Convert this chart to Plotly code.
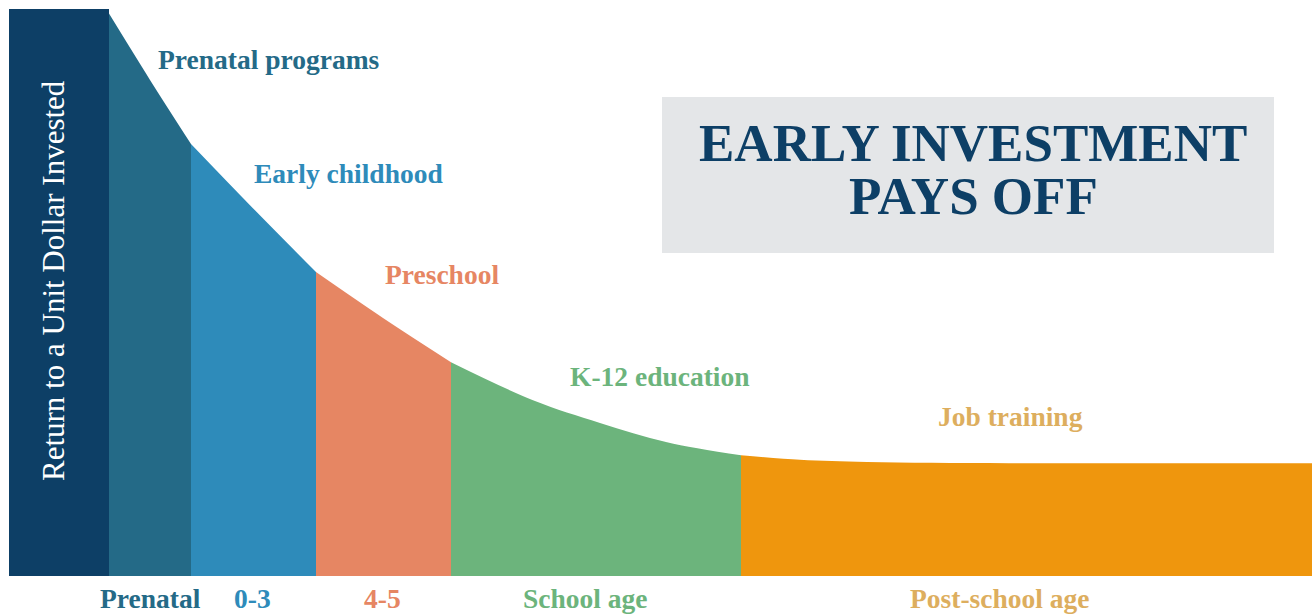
import plotly.graph_objects as go

# ---- data (x: position along life-course axis, y: return to a unit dollar) ----
segment_names = ["Prenatal", "0-3", "4-5", "School age", "Post-school age"]
program_names = ["Prenatal programs", "Early childhood", "Preschool", "K-12 education", "Job training"]
segment_bounds = [100, 182, 307, 442, 732, 1303]
axis_bar_x = [0, 100]
axis_bar_y = [10, 10]
curve_x = [100, 141, 182, 241, 307, 374, 442, 524, 591, 658, 732, 791, 858, 1000, 1303]
curve_y = [9.92, 8.75, 7.62, 6.54, 5.36, 4.55, 3.77, 3.10, 2.70, 2.36, 2.13, 2.05, 2.01, 1.99, 1.99]
seg_colors = ["#246A87", "#2E8BBA", "#E68663", "#6CB47C", "#EF960D"]
label_colors = ["#246A87", "#2E8BBA", "#E68663", "#6CB47C", "#DDAE5E"]
navy = "#0D3F66"

fig = go.Figure()

# left dark bar holding the axis title
fig.add_trace(go.Scatter(x=axis_bar_x, y=axis_bar_y, mode="lines", fill="tozeroy",
                         line=dict(width=0, color=navy), fillcolor=navy,
                         hoverinfo="skip", showlegend=False))

for i, name in enumerate(segment_names):
    lo, hi = segment_bounds[i], segment_bounds[i + 1]
    xs = [x for x in curve_x if lo <= x <= hi]
    ys = [y for x, y in zip(curve_x, curve_y) if lo <= x <= hi]
    fig.add_trace(go.Scatter(x=xs, y=ys, mode="lines", fill="tozeroy",
                             line=dict(width=0, color=seg_colors[i], shape="spline", smoothing=1.0),
                             fillcolor=seg_colors[i], name=name,
                             hoverinfo="skip", showlegend=False))

SERIF = "Liberation Serif, Times New Roman, serif"

def py(p):  # pixel row -> y data value
    return (576 - p) / 56.7

def pp(p):  # pixel row -> paper y
    return (576 - p) / 567.0

# program labels above the curve
prog_pos = [(260, 59), (339, 173), (433, 274), (651, 376), (1001, 416)]
for name, col, (x, y) in zip(program_names, label_colors, prog_pos):
    fig.add_annotation(x=x, y=py(y), text=name, showarrow=False, xref="x", yref="y",
                       font=dict(family=SERIF, size=27.5, color=col, weight="bold"))

# age-group labels below the axis
age_pos = [141, 243, 373, 576, 991]
for name, col, x in zip(segment_names, label_colors, age_pos):
    fig.add_annotation(x=x, y=pp(598), text=name, showarrow=False, xref="x", yref="paper",
                       xanchor="center", yanchor="middle",
                       font=dict(family=SERIF, size=27.5, color=col, weight="bold"))

# rotated axis title on the dark bar
fig.add_annotation(x=44, y=py(281), text="Return to a Unit Dollar Invested", showarrow=False,
                   textangle=-90, xref="x", yref="y",
                   font=dict(family=SERIF, size=31, color="white"))

# title box
fig.add_shape(type="rect", xref="x", yref="y", x0=653, x1=1265, y0=py(253), y1=py(97),
              fillcolor="#E4E6E8", line=dict(width=0), layer="below")
fig.add_annotation(x=964, y=py(143), text="EARLY INVESTMENT", showarrow=False, xref="x", yref="y",
                   font=dict(family=SERIF, size=53, color=navy, weight="bold"))
fig.add_annotation(x=964, y=py(196), text="PAYS OFF", showarrow=False, xref="x", yref="y",
                   font=dict(family=SERIF, size=53, color=navy, weight="bold"))

fig.update_xaxes(range=[0, 1303], visible=False, showgrid=False, zeroline=False)
fig.update_yaxes(range=[0, 10], visible=False, showgrid=False, zeroline=False)
fig.update_layout(width=1312, height=614, margin=dict(l=9, r=0, t=9, b=38),
                  paper_bgcolor="white", plot_bgcolor="white", showlegend=False)

fig.write_html("out.html", config={"displayModeBar": False},
               post_script="document.body.style.margin='0';document.body.style.overflow='hidden';")
